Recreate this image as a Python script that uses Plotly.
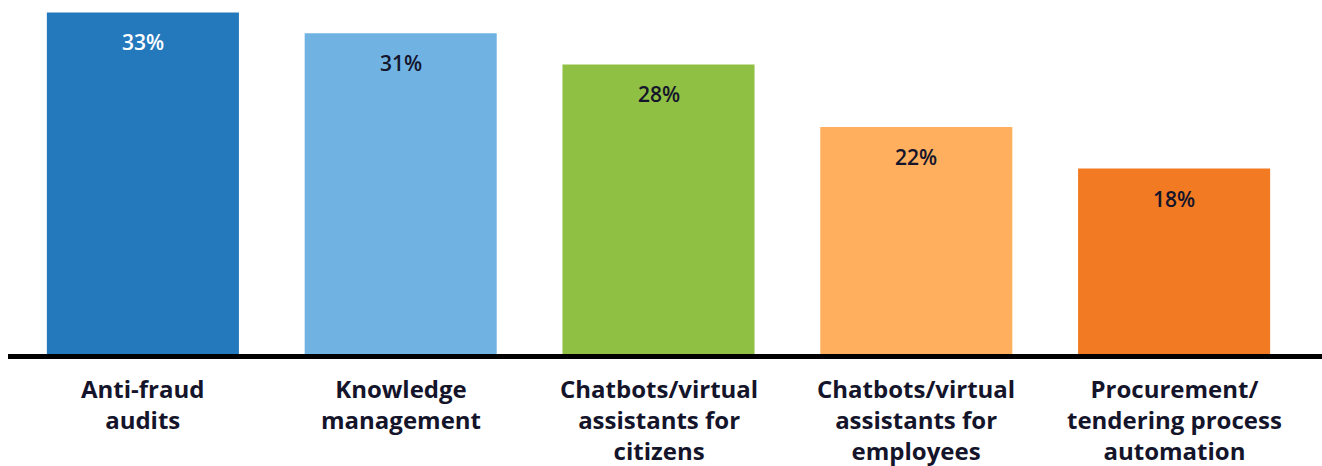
import plotly.graph_objects as go

categories = [
    "Anti-fraud<br>audits",
    "Knowledge<br>management",
    "Chatbots/virtual<br>assistants for<br>citizens",
    "Chatbots/virtual<br>assistants for<br>employees",
    "Procurement/<br>tendering process<br>automation",
]
values = [33, 31, 28, 22, 18]
bar_colors = ["#2479BD", "#70B3E3", "#8FBF43", "#FFAF5D", "#F17A22"]
value_label_colors = ["#FFFFFF", "#14142B", "#14142B", "#14142B", "#14142B"]

FONT = "Open Sans"
TEXT_COLOR = "#14142B"
W, H = 1322, 466
ML, MR, MT, MB = 14, 19, 2, 110
plot_w = W - ML - MR
plot_h = H - MT - MB


def paper_y(px):
    """Convert a pixel row (from top of figure) to paper y."""
    return (H - MB - px) / plot_h


fig = go.Figure(
    go.Bar(
        x=categories,
        y=values,
        marker=dict(color=bar_colors, line=dict(width=0)),
        hoverinfo="skip",
    )
)

# percentage labels just inside the top of each bar
for cat, val, col in zip(categories, values, value_label_colors):
    fig.add_annotation(
        x=cat, y=val, text=f"{val}%", showarrow=False,
        yanchor="middle", yshift=-30,
        font=dict(family=FONT, size=21, color=col, weight=600),
    )

# category names stacked under the axis
for cat in categories:
    fig.add_annotation(
        x=cat, xref="x", y=paper_y(371), yref="paper",
        text=cat, showarrow=False, yanchor="top", xanchor="center",
        align="center", borderpad=0,
        font=dict(family=FONT, size=24, color=TEXT_COLOR, weight=700),
    )

# heavy baseline running across the full width
fig.add_shape(
    type="line", xref="paper", yref="paper",
    x0=(8 - ML) / plot_w, x1=(W - ML) / plot_w,
    y0=paper_y(356.5), y1=paper_y(356.5),
    line=dict(color="#000000", width=5),
)

fig.update_layout(
    width=W, height=H,
    margin=dict(l=ML, r=MR, t=MT, b=MB),
    plot_bgcolor="white", paper_bgcolor="white",
    bargap=0.255,
    showlegend=False,
    font=dict(family=FONT),
    xaxis=dict(
        showline=False, showgrid=False, zeroline=False, ticks="",
        showticklabels=False,
    ),
    yaxis=dict(
        range=[0, 34], showgrid=False, zeroline=False, showline=False,
        showticklabels=False, ticks="",
    ),
)

fig.write_html("out.html")
